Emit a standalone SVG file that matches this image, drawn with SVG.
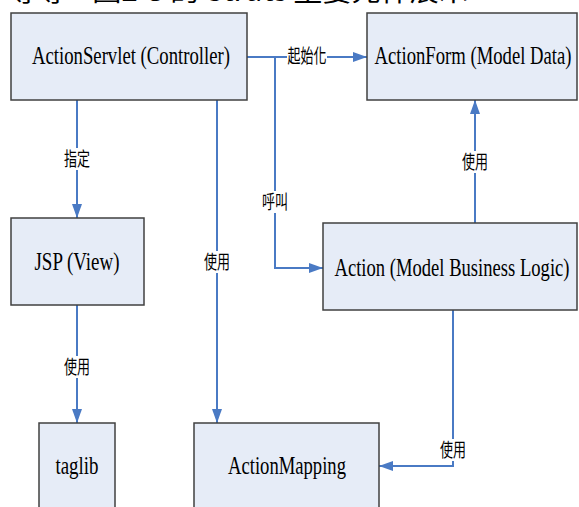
<svg xmlns="http://www.w3.org/2000/svg" width="579" height="507" viewBox="0 0 579 507">
<style>
.box{fill:#e6ecf7;stroke:#404040;stroke-width:1.5}
.t{font-family:"Liberation Serif","Times New Roman",serif;font-size:26px;fill:#000;text-anchor:middle}
.lb{font-family:"Noto Sans CJK TC","Noto Sans CJK SC",sans-serif;font-size:19px;fill:#000;text-anchor:middle}
.ln{fill:none;stroke:#4a7ac4;stroke-width:2}
.bg{fill:#fff}
.title{font-family:"Noto Sans CJK TC","Liberation Serif",serif;font-size:26px;fill:#000}
</style>
<defs>
<marker id="ah" markerUnits="userSpaceOnUse" markerWidth="14" markerHeight="12" refX="14" refY="5" orient="auto">
<path d="M0,0 L14,5 L0,10 z" fill="#4a7ac4"/>
</marker>
</defs>
<text class="title" x="8" y="1" textLength="460" lengthAdjust="spacingAndGlyphs">等等—圖2-3 的 Struts 主要元件展示</text>
<g id="connectors">
<path class="ln" d="M77,100 V218" marker-end="url(#ah)"/>
<path class="ln" d="M217,100 V423" marker-end="url(#ah)"/>
<path class="ln" d="M247,57 H367" marker-end="url(#ah)"/>
<path class="ln" d="M275,57 V268 H323" marker-end="url(#ah)"/>
<path class="ln" d="M475,223 V100" marker-end="url(#ah)"/>
<path class="ln" d="M453,310 V466 H379" marker-end="url(#ah)"/>
<path class="ln" d="M77,305 V423" marker-end="url(#ah)"/>
<rect class="bg" x="63" y="148" width="28" height="22"/>
<text class="lb" x="77" y="166" textLength="26" lengthAdjust="spacingAndGlyphs">指定</text>
<rect class="bg" x="203" y="251" width="28" height="22"/>
<text class="lb" x="217" y="269" textLength="26" lengthAdjust="spacingAndGlyphs">使用</text>
<rect class="bg" x="287" y="46" width="40" height="22"/>
<text class="lb" x="307" y="63" textLength="39" lengthAdjust="spacingAndGlyphs">起始化</text>
<rect class="bg" x="261" y="191" width="28" height="22"/>
<text class="lb" x="275" y="209" textLength="26" lengthAdjust="spacingAndGlyphs">呼叫</text>
<rect class="bg" x="461" y="151" width="28" height="22"/>
<text class="lb" x="475" y="169" textLength="26" lengthAdjust="spacingAndGlyphs">使用</text>
<rect class="bg" x="63" y="356" width="28" height="22"/>
<text class="lb" x="77" y="374" textLength="26" lengthAdjust="spacingAndGlyphs">使用</text>
<rect class="bg" x="439" y="439" width="28" height="22"/>
<text class="lb" x="453" y="457" textLength="26" lengthAdjust="spacingAndGlyphs">使用</text>
</g>
<g id="actionservlet">
<rect class="box" x="11" y="13" width="236" height="87"/>
<text class="t" x="131" y="64" textLength="198" lengthAdjust="spacingAndGlyphs">ActionServlet (Controller)</text>
</g>
<g id="actionform">
<rect class="box" x="367" y="13" width="210" height="87"/>
<text class="t" x="473" y="64" textLength="197" lengthAdjust="spacingAndGlyphs">ActionForm (Model Data)</text>
</g>
<g id="jsp">
<rect class="box" x="11" y="218" width="133" height="87"/>
<text class="t" x="77" y="270" textLength="85" lengthAdjust="spacingAndGlyphs">JSP (View)</text>
</g>
<g id="action">
<rect class="box" x="323" y="223" width="254" height="87"/>
<text class="t" x="452" y="276" textLength="235" lengthAdjust="spacingAndGlyphs">Action (Model Business Logic)</text>
</g>
<g id="taglib">
<rect class="box" x="39" y="423" width="76" height="100"/>
<text class="t" x="77" y="474" textLength="43" lengthAdjust="spacingAndGlyphs">taglib</text>
</g>
<g id="actionmapping">
<rect class="box" x="194" y="423" width="185" height="100"/>
<text class="t" x="287" y="474" textLength="118" lengthAdjust="spacingAndGlyphs">ActionMapping</text>
</g>
</svg>
